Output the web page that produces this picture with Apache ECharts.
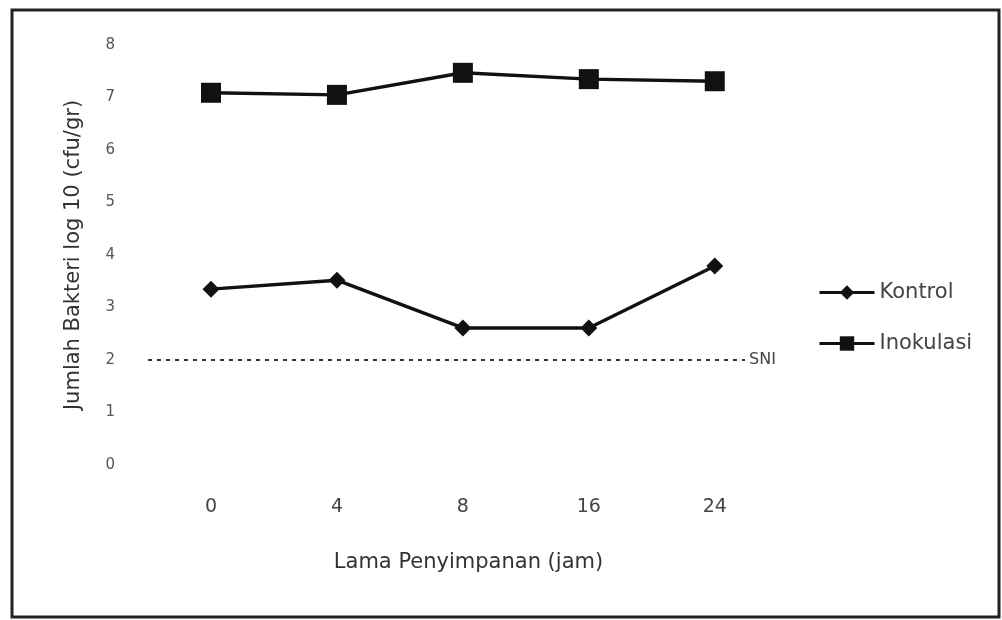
<!DOCTYPE html>
<html>
<head>
<meta charset="utf-8">
<script src="https://cdn.jsdelivr.net/npm/echarts@6/dist/echarts.min.js"></script>
<style>
  html, body { margin: 0; padding: 0; background: #fff; }
  #chart { width: 1002px; height: 620px; }
</style>
</head>
<body>
<div id="chart"></div>
<script>
// storage time (jam)
var categories = ['0', '4', '8', '16', '24'];
var kontrol = [3.35, 3.52, 2.61, 2.61, 3.79];
var inokulasi = [7.09, 7.05, 7.47, 7.35, 7.31];
var sniLimit = 2;
var yTicks = [0, 1, 2, 3, 4, 5, 6, 7, 8];

var chart = echarts.init(document.getElementById('chart'));

function pairs(arr) {
  return arr.map(function (v, i) { return [i, v]; });
}

var font = 'DejaVu Sans';

var option = {
  backgroundColor: '#fff',
  animation: false,
  textStyle: { fontFamily: font },
  graphic: [{
    type: 'rect',
    shape: { x: 12, y: 10, width: 987, height: 607 },
    style: { fill: 'none', stroke: '#222', lineWidth: 3 }
  }],
  grid: { left: 148, right: 257, top: 45, bottom: 155 },
  legend: {
    orient: 'vertical',
    left: 818,
    top: 282,
    padding: 0,
    itemWidth: 55,
    itemHeight: 18,
    itemGap: 30,
    lineStyle: { width: 3 },
    textStyle: { color: '#444', fontSize: 21, fontFamily: font },
    data: ['Kontrol', 'Inokulasi']
  },
  xAxis: {
    type: 'value',
    min: -0.5,
    max: 4.24,
    name: 'Lama Penyimpanan (jam)',
    nameLocation: 'middle',
    nameGap: 87,
    nameTextStyle: { color: '#333', fontSize: 21, padding: [0, 0, 0, 44] },
    axisLine: { show: false },
    axisTick: { show: false },
    splitLine: { show: false },
    axisLabel: {
      customValues: [0, 1, 2, 3, 4],
      formatter: function (v) { return categories[Math.round(v)]; },
      color: '#444',
      fontSize: 19,
      margin: 33
    }
  },
  yAxis: {
    type: 'value',
    min: yTicks[0],
    max: yTicks[yTicks.length - 1],
    interval: 1,
    name: 'Jumlah Bakteri log 10 (cfu/gr)',
    nameLocation: 'middle',
    nameGap: 64,
    nameTextStyle: { color: '#333', fontSize: 21 },
    axisLine: { show: false },
    axisTick: { show: false },
    splitLine: { show: false },
    axisLabel: { color: '#555', fontSize: 15, margin: 33 }
  },
  series: [{
    name: 'Kontrol',
    type: 'line',
    data: pairs(kontrol),
    symbol: 'diamond',
    symbolSize: 17,
    itemStyle: { color: '#111' },
    lineStyle: { color: '#111', width: 3.5 },
    markLine: {
      silent: true,
      symbol: 'none',
      data: [{ yAxis: sniLimit }],
      lineStyle: { color: '#333', type: [4, 5], width: 2 },
      label: {
        show: true,
        position: 'end',
        formatter: 'SNI',
        color: '#444',
        fontSize: 16,
        distance: 4
      }
    }
  }, {
    name: 'Inokulasi',
    type: 'line',
    data: pairs(inokulasi),
    symbol: 'rect',
    symbolSize: 20,
    itemStyle: { color: '#111' },
    lineStyle: { color: '#111', width: 3.5 }
  }]
};

chart.setOption(option);
</script>
</body>
</html>
